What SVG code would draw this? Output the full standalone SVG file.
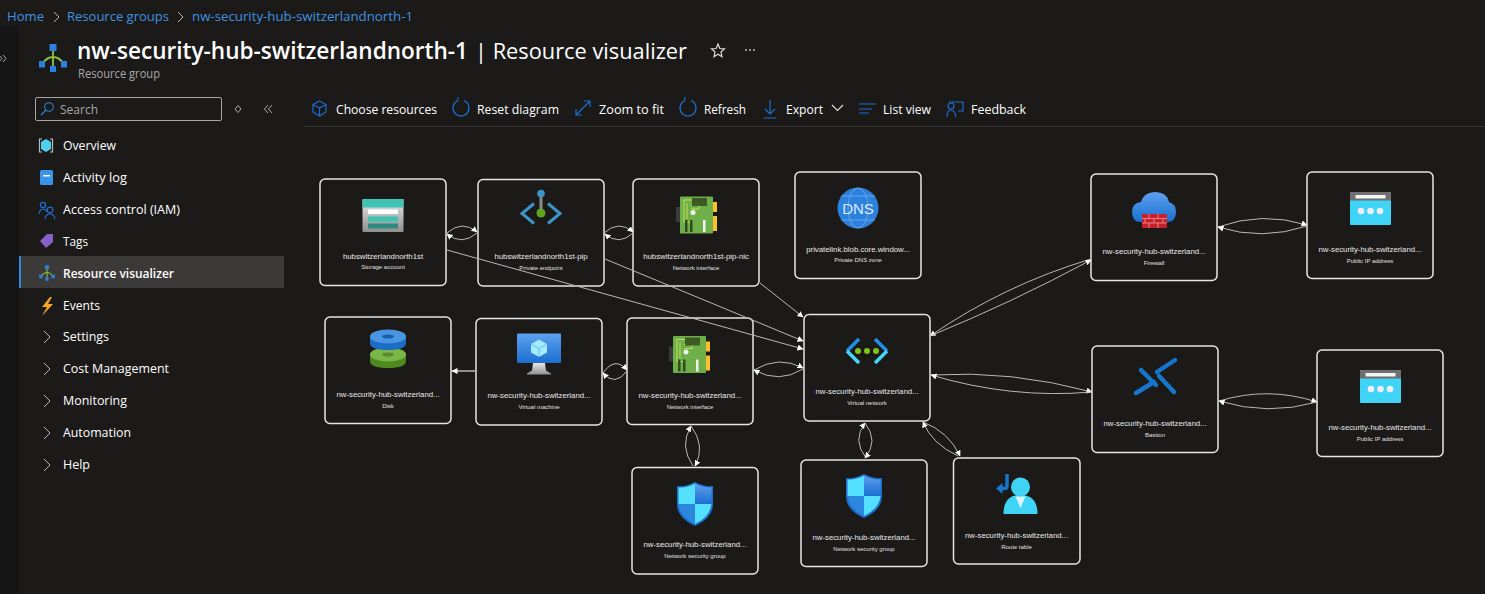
<svg xmlns="http://www.w3.org/2000/svg" width="1485" height="594" viewBox="0 0 1485 594">
<style>
text{font-family:"Open Sans","Noto Sans","Liberation Sans",sans-serif;fill:#fff}
.crumb{font-size:13px;fill:#3f92e0}
.menu{font-size:13px}
.tool{font-size:13px}
.box{fill:#1b1a19;stroke:#e6e6e6;stroke-width:1.5}
.nm{font-family:"Liberation Sans",Arial,sans-serif;font-size:7.8px;text-anchor:middle;fill:#e8e8e8}
.sb{font-family:"Liberation Sans",Arial,sans-serif;font-size:6px;text-anchor:middle;fill:#e0e0e0}
.chev{fill:none;stroke:#b8b8b8;stroke-width:1}
.ti{fill:none;stroke:#1a6fd0;stroke-width:1.2}
.c{fill:none;stroke:#b8b8b8;stroke-width:1;marker-end:url(#ah)}
</style>
<defs>
<marker id="ah" markerUnits="userSpaceOnUse" markerWidth="7" markerHeight="7" refX="5.500" refY="3" orient="auto"><path d="M0 0L6 3L0 6Z" fill="#fff"/></marker>
<linearGradient id="gb" x1="0" y1="0" x2="0" y2="1"><stop offset="0" stop-color="#5ea0ef"/><stop offset="1" stop-color="#1a6fd0"/></linearGradient>
<linearGradient id="gs" x1="0" y1="0" x2="0" y2="1"><stop offset="0" stop-color="#e8e8e8"/><stop offset="1" stop-color="#8f8f8f"/></linearGradient>
<g id="i-net">
<path d="M-10 5Q-6 -1 0 -1Q6 -1 10 5M0 -8V9" fill="none" stroke="#8cc63f" stroke-width="1.800"/>
<rect x="-3.500" y="-14" width="7" height="7" fill="#2d7fe0"/><rect x="-14" y="3" width="6" height="6.500" fill="#2d7fe0"/><rect x="8" y="3" width="6" height="6.500" fill="#2d7fe0"/><rect x="-3" y="8" width="6" height="6" fill="#2d7fe0"/>
</g>
<g id="i-nic">
<rect x="-21" y="-8" width="5" height="15" fill="#3a3a3a"/>
<rect x="12" y="-13" width="8" height="10" fill="#fcc02c"/><rect x="12" y="1" width="8" height="15" fill="#fcc02c"/>
<rect x="-17" y="-18.500" width="33" height="37" rx="1" fill="#6faf4a"/>
<path d="M-13 -15H0M-13 -15V7H-7M-10 -12V4M-6 -10H2V-6H-6" fill="none" stroke="#c5e35a" stroke-width="0.900"/>
<rect x="-5" y="-17" width="15" height="8" fill="#3c5a22"/>
<circle cx="-4" cy="-2.500" r="2.500" fill="#f0f0f0"/>
<rect x="-12" y="5" width="2.500" height="12" fill="#2f4d1e"/><rect x="-7" y="5" width="2.500" height="12" fill="#2f4d1e"/><rect x="6" y="5" width="2.500" height="12" fill="#f2f2f2"/>
</g>
<g id="i-pip">
<rect x="-20.500" y="-16.500" width="41" height="33" rx="1" fill="#3fd3f5"/>
<path d="M-20.500 -8V-15.500Q-20.500 -16.500 -19.500 -16.500H19.500Q20.500 -16.500 20.500 -15.500V-8Z" fill="#6f6f6f"/>
<rect x="-15" y="-13.500" width="30" height="3.500" fill="#f4f4f4"/>
<circle cx="-9.500" cy="2.500" r="3.300" fill="#eef"/><circle cx="0" cy="2.500" r="3.300" fill="#eef"/><circle cx="9.500" cy="2.500" r="3.300" fill="#eef"/>
</g>
<g id="i-nsg">
<path d="M0 -22Q9 -17 18 -18V0Q18 14 0 22Q-18 14 -18 0V-18Q-9 -17 0 -22Z" fill="#1a6fd0"/>
<path d="M0 -20.500Q-8 -16 -16.500 -16.500V0H0Z" fill="#55e0ff"/><path d="M0 -20.500Q8 -16 16.500 -16.500V0H0Z" fill="url(#gb)"/>
<path d="M-16.500 0H0V20Q-15 13 -16.500 0Z" fill="#2d86de"/><path d="M16.500 0H0V20Q15 13 16.500 0Z" fill="#55e0ff"/>
</g>
</defs>
<rect width="1485" height="594" fill="#1b1a19"/>
<rect x="0" y="27" width="19" height="567" fill="#151515"/>
<g id="breadcrumb">
<text class="crumb" x="7" y="21" textLength="37" lengthAdjust="spacingAndGlyphs">Home</text>
<path class="chev" d="M54 12L59 17L54 22"/>
<text class="crumb" x="67" y="21" textLength="102" lengthAdjust="spacingAndGlyphs">Resource groups</text>
<path class="chev" d="M178 12L183 17L178 22"/>
<text class="crumb" x="192" y="21" textLength="221" lengthAdjust="spacingAndGlyphs">nw-security-hub-switzerlandnorth-1</text>
</g>
<g id="header">
<path d="M-1 55L2 58.500L-1 62M3 55L6 58.500L3 62" fill="none" stroke="#aaa"/>
<use href="#i-net" transform="translate(53,58)"/>
<text x="77" y="59" font-size="23" font-weight="600" textLength="391" lengthAdjust="spacingAndGlyphs">nw-security-hub-switzerlandnorth-1</text>
<text x="475" y="59" font-size="22" textLength="212" lengthAdjust="spacingAndGlyphs">| Resource visualizer</text>
<text x="78" y="78" font-size="12" textLength="82" lengthAdjust="spacingAndGlyphs" style="fill:#a8a8a8">Resource group</text>
<path d="M718 44L719.800 48.500L724.500 48.800L721 52L722 56.800L718 54.300L714 56.800L715 52L711.500 48.800L716.200 48.500Z" fill="none" stroke="#ddd" stroke-width="1.200"/>
<g fill="#bbb"><circle cx="746" cy="50" r="1"/><circle cx="750" cy="50" r="1"/><circle cx="754" cy="50" r="1"/></g>
</g>
<g id="sidebar">
<rect x="35.500" y="97.500" width="186" height="23" rx="1.500" fill="none" stroke="#a5a5a5"/>
<circle cx="49" cy="107" r="4.300" fill="none" stroke="#2f86d8" stroke-width="1.100"/><path d="M46 110L41 115" stroke="#2f86d8" stroke-width="1.100"/>
<text x="60" y="114" font-size="13" textLength="38" lengthAdjust="spacingAndGlyphs" style="fill:#a8a8a8">Search</text>
<path d="M238 105.500L241 109L238 112.500L235 109Z" fill="none" stroke="#aaa"/>
<path d="M268 105L264.500 109L268 113M272 105L268.500 109L272 113" fill="none" stroke="#aaa"/>
<rect x="19" y="256" width="265" height="32" fill="#3b3a39"/><rect x="19" y="256" width="2" height="32" fill="#2f8ae0"/>
<g>
<path d="M42 139H39.500V152H42M50 139H52.500V152H50" fill="none" stroke="#bbb" stroke-width="1.200"/><path d="M46 139L51 142V149L46 152L41 149V142Z" fill="#4fd0f0"/>
<rect x="40" y="170" width="13" height="15" rx="1.500" fill="#3a95e8"/><rect x="43" y="175" width="7" height="1.500" fill="#fff"/>
<g fill="none" stroke="#1f6fd0" stroke-width="1.200"><circle cx="43" cy="205" r="2.600"/><path d="M39 214Q40 209 43 209Q46 209 47 212"/><circle cx="50" cy="210" r="2.800"/><path d="M45 219Q46 214 50 214Q54 214 55 219"/></g>
<path d="M40 241L47 234H53V242L46 248Z" fill="#8661c5"/>
<use href="#i-net" transform="translate(47,273) scale(.56)"/>
<path d="M50 297L42 307H47L42 316L53 304H48L52 297Z" fill="#f5a623"/>
<path class="chev" d="M44 331L50 337L44 343M44 363L50 369L44 375M44 395L50 401L44 407M44 427L50 433L44 439M44 459L50 465L44 471"/>
</g>
<text class="menu" x="63" y="150" textLength="53" lengthAdjust="spacingAndGlyphs">Overview</text>
<text class="menu" x="63" y="182" textLength="64" lengthAdjust="spacingAndGlyphs">Activity log</text>
<text class="menu" x="63" y="214" textLength="117" lengthAdjust="spacingAndGlyphs">Access control (IAM)</text>
<text class="menu" x="63" y="246" textLength="25" lengthAdjust="spacingAndGlyphs">Tags</text>
<text class="menu" x="63" y="278" font-weight="600" textLength="111" lengthAdjust="spacingAndGlyphs">Resource visualizer</text>
<text class="menu" x="63" y="310" textLength="37" lengthAdjust="spacingAndGlyphs">Events</text>
<text class="menu" x="63" y="341" textLength="46" lengthAdjust="spacingAndGlyphs">Settings</text>
<text class="menu" x="63" y="373" textLength="106" lengthAdjust="spacingAndGlyphs">Cost Management</text>
<text class="menu" x="63" y="405" textLength="64" lengthAdjust="spacingAndGlyphs">Monitoring</text>
<text class="menu" x="63" y="437" textLength="68" lengthAdjust="spacingAndGlyphs">Automation</text>
<text class="menu" x="63" y="469" textLength="27" lengthAdjust="spacingAndGlyphs">Help</text>
</g>
<g id="toolbar">
<path class="ti" d="M319.500 101L326 104.500V112L319.500 116L313 112V104.500ZM313 104.500L319.500 108L326 104.500M319.500 108V116"/>
<path class="ti" d="M458 100.500A8 8 0 1 0 464 100.500M458 100.500V97"/>
<path class="ti" d="M576 115L590 101M584 101H590V107M576 109V115H582"/>
<path class="ti" d="M685 100.500A8 8 0 1 0 691 100.500M685 100.500V97"/>
<path class="ti" d="M770 100V114M765 109L770 114L775 109M764 118H776"/>
<path d="M832 105L837.500 110.500L843 105" fill="none" stroke="#ddd" stroke-width="1.200"/>
<path class="ti" d="M859 104H875M859 109H872M859 113H869"/>
<path class="ti" d="M949 102H963V111H958M947 117Q947 110 951 110Q955 110 956 117"/><circle class="ti" cx="951" cy="106" r="3"/>
<text class="tool" x="336" y="114" textLength="101" lengthAdjust="spacingAndGlyphs">Choose resources</text>
<text class="tool" x="477" y="114" textLength="82" lengthAdjust="spacingAndGlyphs">Reset diagram</text>
<text class="tool" x="599" y="114" textLength="65" lengthAdjust="spacingAndGlyphs">Zoom to fit</text>
<text class="tool" x="704" y="114" textLength="42" lengthAdjust="spacingAndGlyphs">Refresh</text>
<text class="tool" x="786" y="114" textLength="37" lengthAdjust="spacingAndGlyphs">Export</text>
<text class="tool" x="883" y="114" textLength="48" lengthAdjust="spacingAndGlyphs">List view</text>
<text class="tool" x="971" y="114" textLength="55" lengthAdjust="spacingAndGlyphs">Feedback</text>
<path d="M304 126.500H1485" stroke="#333"/>
</g>
<g id="n-storage" transform="translate(320,179)"><rect class="box" width="126" height="106.500" rx="5"/>
<rect x="42.500" y="20" width="41" height="33" rx="1" fill="url(#gs)"/><rect x="42.500" y="20" width="41" height="8.500" fill="#3fc4b4"/><rect x="48" y="30.500" width="30" height="4.500" fill="#fff"/><rect x="48" y="37.500" width="30" height="5" fill="#3fc4b4"/><rect x="48" y="44.500" width="30" height="5" fill="#2f8a80"/>
<text class="nm" x="63" y="79.500">hubswitzerlandnorth1st</text><text class="sb" x="63" y="90">Storage account</text></g>
<g id="n-pe" transform="translate(478,179.500)"><rect class="box" width="126" height="106.500" rx="5"/>
<path d="M63 13V35" stroke="#8a8a8a" stroke-width="3"/><circle cx="63" cy="14" r="3.800" fill="#3a96c8"/><circle cx="63" cy="33.500" r="4.500" fill="#5fa51e"/>
<path d="M56 24L44 34L56 44M70 24L82 34L70 44" fill="none" stroke="#3a96c8" stroke-width="3"/>
<text class="nm" x="63" y="79.500">hubswitzerlandnorth1st-pip</text><text class="sb" x="63" y="90">Private endpoint</text></g>
<g id="n-nic1" transform="translate(633,179)"><rect class="box" width="126" height="107" rx="5"/>
<use href="#i-nic" transform="translate(64,36)"/>
<text class="nm" x="63" y="79.500">hubswitzerlandnorth1st-pip-nic</text><text class="sb" x="63" y="90.500">Network interface</text></g>
<g id="n-dns" transform="translate(795,172)"><rect class="box" width="126" height="106.500" rx="5"/>
<circle cx="63" cy="36" r="20.500" fill="#2d80dc"/><g fill="none" stroke="#6fb0ee" stroke-width=".8"><ellipse cx="63" cy="36" rx="10" ry="20"/><path d="M46 24H80M46 48H80"/></g>
<text x="63" y="42" font-size="15" text-anchor="middle" style="fill:#dcecff;font-family:'Liberation Sans',sans-serif">DNS</text>
<text class="nm" x="63" y="79.500">privatelink.blob.core.window...</text><text class="sb" x="63" y="90">Private DNS zone</text></g>
<g id="n-fw" transform="translate(1091,174)"><rect class="box" width="126" height="106.500" rx="5"/>
<path d="M50 48Q41 48 41 38Q41 29 50 28Q53 18 64 18Q76 18 78 28Q85 30 85 38Q85 48 76 48Z" fill="url(#gb)"/>
<rect x="51" y="40" width="25" height="14" fill="#c4202a"/><path d="M51 44.500H76M51 49H76M58 40V44.500M67 40V44.500M54 44.500V49M63 44.500V49M72 44.500V49M58 49V54M67 49V54" stroke="#f28a8a" stroke-width=".9"/>
<text class="nm" x="63" y="79.500">nw-security-hub-switzerland...</text><text class="sb" x="63" y="90.500">Firewall</text></g>
<g id="n-pip1" transform="translate(1307,172)"><rect class="box" width="126" height="106.500" rx="5"/>
<use href="#i-pip" transform="translate(63.500,36.500)"/>
<text class="nm" x="63" y="79.500">nw-security-hub-switzerland...</text><text class="sb" x="63" y="90.500">Public IP address</text></g>
<g id="n-disk" transform="translate(325,317)"><rect class="box" width="126" height="106.500" rx="5"/>
<path d="M45 37V44Q45 51 63 51Q81 51 81 44V37Z" fill="#4f8a1f"/><ellipse cx="63" cy="37.500" rx="18" ry="7" fill="#7ab648"/><ellipse cx="63" cy="37.500" rx="6" ry="2" fill="#5a8a30"/>
<path d="M45 19V26Q45 33 63 33Q81 33 81 26V19Z" fill="#1d6cc4"/><ellipse cx="63" cy="19.500" rx="18" ry="7" fill="#4a94e4"/><ellipse cx="63" cy="19.500" rx="6" ry="2" fill="#1a5fa8"/>
<text class="nm" x="63" y="79.500">nw-security-hub-switzerland...</text><text class="sb" x="63" y="90.500">Disk</text></g>
<g id="n-vm" transform="translate(476,318.500)"><rect class="box" width="126" height="106.500" rx="5"/>
<rect x="41" y="15" width="44" height="29.500" rx="1" fill="url(#gb)"/><path d="M57 44.500H69L70 52L75 55V56H51V55L56 52Z" fill="url(#gs)"/>
<path d="M63 21L71 25.500V34L63 38.500L55 34V25.500Z" fill="#a5e9fb"/><path d="M63 30L71 25.500M63 30L55 25.500M63 30V38.500" stroke="#55c8ee" fill="none"/>
<text class="nm" x="63" y="79.500">nw-security-hub-switzerland...</text><text class="sb" x="63" y="90.500">Virtual machine</text></g>
<g id="n-nic2" transform="translate(627,318)"><rect class="box" width="126" height="106.500" rx="5"/>
<use href="#i-nic" transform="translate(63,36.500)"/>
<text class="nm" x="63" y="79.500">nw-security-hub-switzerland...</text><text class="sb" x="63" y="90.500">Network interface</text></g>
<g id="n-vnet" transform="translate(804,314.500)"><rect class="box" width="126" height="106.500" rx="5"/>
<path d="M55 24.500L43 36.500" stroke="#1f8fe8" stroke-width="3.500" fill="none"/><path d="M43 36.500L55 48.500" stroke="#45d7f7" stroke-width="3.500" fill="none"/>
<path d="M71 24.500L83 36.500" stroke="#1f8fe8" stroke-width="3.500" fill="none"/><path d="M83 36.500L71 48.500" stroke="#45d7f7" stroke-width="3.500" fill="none"/>
<circle cx="54" cy="36.500" r="3" fill="#82c21f"/><circle cx="63" cy="36.500" r="3" fill="#82c21f"/><circle cx="72" cy="36.500" r="3" fill="#82c21f"/>
<text class="nm" x="63" y="79.500">nw-security-hub-switzerland...</text><text class="sb" x="63" y="90.500">Virtual network</text></g>
<g id="n-bastion" transform="translate(1092,346)"><rect class="box" width="126" height="106.500" rx="5"/>
<g stroke="#1675cc" stroke-width="4.500" stroke-linecap="round"><path d="M49 24L64 39"/><path d="M65 26L83 14"/><path d="M67 30L82 46"/><path d="M44 47L62 36"/></g>
<text class="nm" x="63" y="79.500">nw-security-hub-switzerland...</text><text class="sb" x="63" y="90.500">Bastion</text></g>
<g id="n-pip2" transform="translate(1317,350)"><rect class="box" width="126" height="106.500" rx="5"/>
<use href="#i-pip" transform="translate(63.500,36.500)"/>
<text class="nm" x="63" y="79.500">nw-security-hub-switzerland...</text><text class="sb" x="63" y="90.500">Public IP address</text></g>
<g id="n-nsg1" transform="translate(632,467.500)"><rect class="box" width="126" height="106.500" rx="5"/>
<use href="#i-nsg" transform="translate(63,36.500)"/>
<text class="nm" x="63" y="79.500">nw-security-hub-switzerland...</text><text class="sb" x="63" y="90.500">Network security group</text></g>
<g id="n-nsg2" transform="translate(801,460)"><rect class="box" width="126" height="106.500" rx="5"/>
<use href="#i-nsg" transform="translate(63,36)"/>
<text class="nm" x="63" y="79.500">nw-security-hub-switzerland...</text><text class="sb" x="63" y="90.500">Network security group</text></g>
<g id="n-rt" transform="translate(953.500,458)"><rect class="box" width="126.500" height="106" rx="5"/>
<path d="M53.500 16V28Q53.500 30.500 51 30.500H47" fill="none" stroke="#1675cc" stroke-width="3.500"/><path d="M49 25L42.500 30.500L49 36Z" fill="#1675cc"/>
<circle cx="67" cy="29" r="9.500" fill="#3fd3f5"/><path d="M50 56Q50 37 67 37Q84 37 84 56Z" fill="#3fd3f5"/><path d="M62 38.500H72L67 50Z" fill="#d8f5fc"/>
<text class="nm" x="63" y="79.500">nw-security-hub-switzerland...</text><text class="sb" x="63" y="90.500">Route table</text></g>
<g id="connectors">
<path class="c" d="M447 233Q462 219.500 477 232"/>
<path class="c" d="M477 233Q462 246 447 234"/>
<path class="c" d="M604 233Q619 219.500 633 232"/>
<path class="c" d="M633 233Q619 246 605 234"/>
<path class="c" d="M447 250L803 349"/>
<path class="c" d="M605 259L803 341"/>
<path class="c" d="M760 283L803 317"/>
<path class="c" d="M754 370Q779 355 803 368"/>
<path class="c" d="M803 369Q779 384 754 370"/>
<path class="c" d="M603 373Q615 356 627 370"/>
<path class="c" d="M627 371Q615 387 603 373"/>
<path class="c" d="M476 371H452" style="stroke-width:1.500"/>
<path class="c" d="M693 466Q679 446 691 426"/>
<path class="c" d="M691 426Q706 446 695 466"/>
<path class="c" d="M866 458Q852 440 865 423"/>
<path class="c" d="M865 423Q879 441 865 458"/>
<path class="c" d="M923 422Q949 432 960 456"/>
<path class="c" d="M958 456Q932 444 923 422"/>
<path class="c" d="M1091 259Q1004 285 930 336"/>
<path class="c" d="M930 336Q1013 302 1091 260"/>
<path class="c" d="M931 375Q1011 370 1092 392"/>
<path class="c" d="M1092 392Q1011 399 931 375"/>
<path class="c" d="M1218 227Q1262 211 1307 225"/>
<path class="c" d="M1307 226Q1262 241 1218 227"/>
<path class="c" d="M1219 401Q1268 386 1317 402"/>
<path class="c" d="M1317 402Q1268 416 1219 401"/>
</g>
</svg>
